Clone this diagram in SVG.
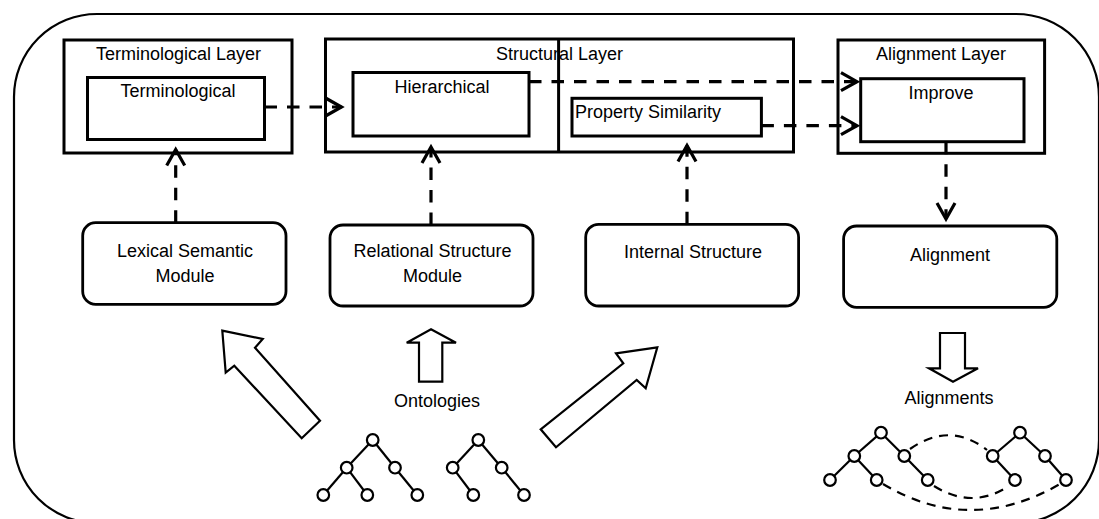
<svg xmlns="http://www.w3.org/2000/svg" width="1099" height="519" viewBox="0 0 1099 519">
<style>
.box{fill:#fff;stroke:#000;stroke-width:3}
.rbox{fill:#fff;stroke:#000;stroke-width:2.8}
.t{font-family:"Liberation Sans",Arial,sans-serif;font-size:18px;fill:#000}
.c{text-anchor:middle}
.dash{fill:none;stroke:#000;stroke-width:3.2;stroke-dasharray:12.5 10}
.ah{fill:none;stroke:#000;stroke-width:3.2;stroke-dasharray:none;stroke-linejoin:miter}
.blk{fill:#fff;stroke:#000;stroke-width:2.2;stroke-linejoin:miter}
.tree line{stroke:#000;stroke-width:2.2}
.tree circle{fill:#fff;stroke:#000;stroke-width:2.2}
.link{fill:none;stroke:#000;stroke-width:2.2;stroke-dasharray:9 7}
</style>
<defs>
<marker id="arr" markerUnits="userSpaceOnUse" viewBox="-20 -12 24 24" markerWidth="24" markerHeight="24" refX="0" refY="0" orient="auto" overflow="visible">
<polyline class="ah" points="-16,-9 0,0 -16,9"/>
</marker>
</defs>
<rect width="1099" height="519" fill="#fff"/>
<rect id="frame" x="14" y="14" width="1085" height="509" rx="83" ry="83" fill="none" stroke="#000" stroke-width="2.2"/>

<g id="terminological-layer">
<rect class="box" x="64" y="40" width="228" height="113"/>
<text class="t c" x="178.5" y="60">Terminological Layer</text>
</g>
<g id="terminological">
<rect class="box" x="87.5" y="77.5" width="177" height="62"/>
<text class="t c" x="178" y="97.3">Terminological</text>
</g>
<g id="structural-layer">
<rect class="box" x="325.5" y="39" width="468" height="113"/>
<text class="t c" x="559.5" y="60">Structural Layer</text>
<line x1="558.6" y1="39" x2="558.6" y2="152" stroke="#000" stroke-width="3"/>
</g>
<g id="hierarchical">
<rect class="box" x="353" y="72.5" width="176" height="63.5"/>
<text class="t c" x="442" y="93.3">Hierarchical</text>
</g>
<g id="property-similarity">
<rect class="box" x="572" y="98.3" width="189.4" height="37.7"/>
<text class="t" x="575" y="118.3">Property Similarity</text>
</g>
<g id="alignment-layer">
<rect class="box" x="838" y="40" width="206.6" height="113.3"/>
<text class="t c" x="941" y="60">Alignment Layer</text>
</g>
<g id="improve">
<rect class="box" x="860.7" y="78.7" width="163.3" height="63"/>
<text class="t c" x="941" y="99">Improve</text>
</g>

<g id="lexical-semantic-module">
<rect class="rbox" x="82.7" y="222.7" width="203.3" height="81.6" rx="13"/>
<text class="t c" x="185" y="257">Lexical Semantic</text>
<text class="t c" x="185" y="282">Module</text>
</g>
<g id="relational-structure-module">
<rect class="rbox" x="330" y="225" width="203" height="81" rx="13"/>
<text class="t c" x="432.5" y="257">Relational Structure</text>
<text class="t c" x="432.5" y="282">Module</text>
</g>
<g id="internal-structure">
<rect class="rbox" x="585.7" y="224.3" width="212.9" height="81.7" rx="13"/>
<text class="t c" x="693" y="258.3">Internal Structure</text>
</g>
<g id="alignment">
<rect class="rbox" x="843.6" y="226" width="213.2" height="81.3" rx="13"/>
<text class="t c" x="950" y="260.7">Alignment</text>
</g>

<g id="connectors">
<line class="dash" x1="264.5" y1="107" x2="341.5" y2="107" marker-end="url(#arr)"/>
<line class="dash" x1="529" y1="81.7" x2="857" y2="81.7" marker-end="url(#arr)"/>
<line class="dash" x1="761.4" y1="125.7" x2="857" y2="125.7" marker-end="url(#arr)"/>
<line class="dash" x1="175.7" y1="222.7" x2="175.7" y2="149.5" marker-end="url(#arr)"/>
<line class="dash" x1="431" y1="225" x2="431" y2="147" marker-end="url(#arr)"/>
<line class="dash" x1="687" y1="224.3" x2="687" y2="145.5" marker-end="url(#arr)"/>
<line class="dash" x1="946" y1="141.7" x2="946" y2="219" marker-end="url(#arr)"/>
</g>

<g id="block-arrows">
<polygon class="blk" points="222.3,330.7 262.7,339 255,347.7 320,420.7 301.7,438.3 234.3,365.7 225.7,372.7"/>
<polygon class="blk" points="431,329.3 456,342.7 442.3,342.7 442.3,381.7 419,381.7 419,342.7 406.7,342.7"/>
<polygon class="blk" points="657.3,347.3 616,353.3 623.3,363.3 540.7,429.3 556,447.3 636.7,380 645.7,388.3"/>
<polygon class="blk" points="940,333 965,333 965,368.3 978,368.3 953,381.7 929,368.3 940,368.3"/>
</g>

<g id="ontologies">
<text class="t c" x="437" y="407">Ontologies</text>
<g class="tree">
<line x1="372.7" y1="440" x2="346.7" y2="467.7"/>
<line x1="372.7" y1="440" x2="395" y2="467.7"/>
<line x1="346.7" y1="467.7" x2="323.3" y2="495"/>
<line x1="346.7" y1="467.7" x2="367.3" y2="495"/>
<line x1="395" y1="467.7" x2="417.3" y2="495"/>
<circle cx="372.7" cy="440" r="5.8"/>
<circle cx="346.7" cy="467.7" r="5.8"/>
<circle cx="395" cy="467.7" r="5.8"/>
<circle cx="323.3" cy="495" r="5.8"/>
<circle cx="367.3" cy="495" r="5.8"/>
<circle cx="417.3" cy="495" r="5.8"/>
</g>
<g class="tree">
<line x1="478.3" y1="440" x2="452.7" y2="467.7"/>
<line x1="478.3" y1="440" x2="501.7" y2="467.7"/>
<line x1="452.7" y1="467.7" x2="473.3" y2="495"/>
<line x1="501.7" y1="467.7" x2="524" y2="495"/>
<circle cx="478.3" cy="440" r="5.8"/>
<circle cx="452.7" cy="467.7" r="5.8"/>
<circle cx="501.7" cy="467.7" r="5.8"/>
<circle cx="473.3" cy="495" r="5.8"/>
<circle cx="524" cy="495" r="5.8"/>
</g>
</g>

<g id="alignments">
<text class="t c" x="949" y="404">Alignments</text>
<path class="link" d="M910,449 Q950,421 987,450"/>
<path class="link" d="M934,486 Q972,510 1009,486"/>
<path class="link" d="M883,484 Q970,536 1060,484"/>
<g class="tree">
<line x1="881" y1="432.7" x2="854.3" y2="456"/>
<line x1="881" y1="432.7" x2="904.3" y2="456"/>
<line x1="854.3" y1="456" x2="830" y2="480"/>
<line x1="854.3" y1="456" x2="876.7" y2="480"/>
<line x1="904.3" y1="456" x2="927.7" y2="480"/>
<circle cx="881" cy="432.7" r="5.8"/>
<circle cx="854.3" cy="456" r="5.8"/>
<circle cx="904.3" cy="456" r="5.8"/>
<circle cx="830" cy="480" r="5.8"/>
<circle cx="876.7" cy="480" r="5.8"/>
<circle cx="927.7" cy="480" r="5.8"/>
</g>
<g class="tree">
<line x1="1020" y1="432.7" x2="992.7" y2="456"/>
<line x1="1020" y1="432.7" x2="1045" y2="456"/>
<line x1="992.7" y1="456" x2="1015" y2="480"/>
<line x1="1045" y1="456" x2="1066" y2="480"/>
<circle cx="1020" cy="432.7" r="5.8"/>
<circle cx="992.7" cy="456" r="5.8"/>
<circle cx="1045" cy="456" r="5.8"/>
<circle cx="1015" cy="480" r="5.8"/>
<circle cx="1066" cy="480" r="5.8"/>
</g>
</g>
</svg>
